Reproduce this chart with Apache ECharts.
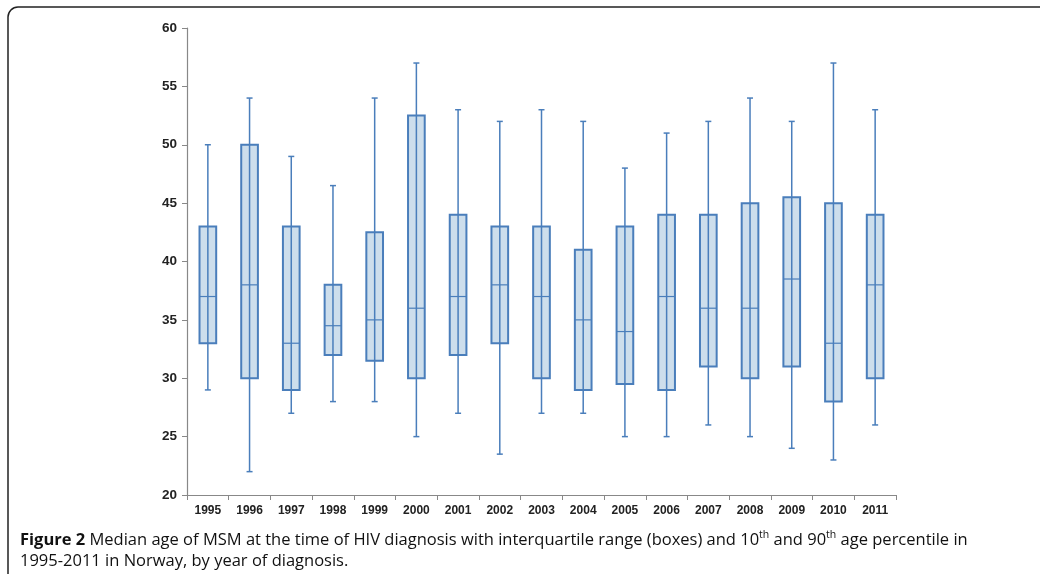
<!DOCTYPE html>
<html>
<head>
<meta charset="utf-8">
<script src="https://cdn.jsdelivr.net/npm/echarts@6/dist/echarts.min.js"></script>
<style>
  html, body { margin: 0; padding: 0; background: #fff; }
  #chart { width: 1040px; height: 574px; }
</style>
</head>
<body>
<div id="chart"></div>
<script>
// years of diagnosis
var years = ['1995','1996','1997','1998','1999','2000','2001','2002','2003','2004','2005','2006','2007','2008','2009','2010','2011'];
// 10th percentile, 25th, median, 75th, 90th
var p10 = [29, 22, 27, 28, 28, 25, 27, 23.5, 27, 27, 25, 25, 26, 25, 24, 23, 26];
var q1  = [33, 30, 29, 32, 31.5, 30, 32, 33, 30, 29, 29.5, 29, 31, 30, 31, 28, 30];
var med = [37, 38, 33, 34.5, 35, 36, 37, 38, 37, 35, 34, 37, 36, 36, 38.5, 33, 38];
var q3  = [43, 50, 43, 38, 42.5, 52.5, 44, 43, 43, 41, 43, 44, 44, 45, 45.5, 45, 44];
var p90 = [50, 54, 49, 46.5, 54, 57, 53, 52, 53, 52, 48, 51, 52, 54, 52, 57, 53];
var yTicks = [20, 25, 30, 35, 40, 45, 50, 55, 60];

var boxData = years.map(function (y, i) {
    return [i, p10[i], q1[i], med[i], q3[i], p90[i]];
});

var lineCol = '#4a7ebb';
var fillCol = '#cddeec';

function renderBox(params, api) {
    var i = api.value(0);
    var lo = api.coord([i, api.value(1)]);
    var b1 = api.coord([i, api.value(2)]);
    var m = api.coord([i, api.value(3)]);
    var b3 = api.coord([i, api.value(4)]);
    var hi = api.coord([i, api.value(5)]);
    var w = api.size([1, 0])[0] * 0.4;
    var cap = 3;
    var x = lo[0];
    return {
        type: 'group',
        children: [
            { type: 'rect', shape: { x: x - w / 2, y: b3[1], width: w, height: b1[1] - b3[1] },
              style: { fill: fillCol, stroke: lineCol, lineWidth: 2 } },
            { type: 'line', shape: { x1: x, y1: hi[1], x2: x, y2: lo[1] },
              style: { stroke: lineCol, lineWidth: 1.5 } },
            { type: 'line', shape: { x1: x - w / 2, y1: m[1], x2: x + w / 2, y2: m[1] },
              style: { stroke: lineCol, lineWidth: 1.2 } },
            { type: 'line', shape: { x1: x - cap, y1: hi[1], x2: x + cap, y2: hi[1] },
              style: { stroke: lineCol, lineWidth: 1.5 } },
            { type: 'line', shape: { x1: x - cap, y1: lo[1], x2: x + cap, y2: lo[1] },
              style: { stroke: lineCol, lineWidth: 1.5 } }
        ]
    };
}

var myChart = echarts.init(document.getElementById('chart'));
var option = {
    animation: false,
    grid: { left: 187, right: 144, top: 28, bottom: 79 },
    xAxis: {
        type: 'category',
        data: years,
        axisLine: { lineStyle: { color: '#888', width: 1.2 } },
        axisTick: { show: true, length: 5, lineStyle: { color: '#888' } },
        axisLabel: { color: '#222', fontWeight: 'bold', fontSize: 12, fontFamily: 'Liberation Sans', margin: 10 }
    },
    yAxis: {
        type: 'value',
        min: yTicks[0],
        max: yTicks[yTicks.length - 1],
        interval: 5,
        splitLine: { show: false },
        axisLine: { show: true, lineStyle: { color: '#888', width: 1.2 } },
        axisTick: { show: true, length: 5, lineStyle: { color: '#888' } },
        axisLabel: { color: '#222', fontWeight: 'bold', fontSize: 13.5, fontFamily: 'Liberation Sans', margin: 10 }
    },
    series: [{
        type: 'custom',
        renderItem: renderBox,
        data: boxData,
        encode: { x: 0, y: [1, 2, 3, 4, 5] }
    }],
    graphic: [
        { type: 'rect', shape: { x: 8, y: 7, width: 1100, height: 620, r: 10 },
          style: { fill: 'none', stroke: '#222', lineWidth: 1.5 } },
        { type: 'text', left: 20, top: 530,
          style: {
              text: '{b|Figure 2} Median age of MSM at the time of HIV diagnosis with interquartile range (boxes) and 10{s|th} and 90{s|th} age percentile in',
              fontFamily: 'Open Sans', fontSize: 16.5, fill: '#111',
              rich: {
                  b: { fontWeight: 'bold', fontFamily: 'Open Sans', fontSize: 16.5, fill: '#111' },
                  s: { fontSize: 10.5, fontFamily: 'Open Sans', verticalAlign: 'top', fill: '#111', padding: [0, 0, 9, 0] }
              }
          } },
        { type: 'text', left: 20, top: 553,
          style: { text: '1995-2011 in Norway, by year of diagnosis.', fontFamily: 'Open Sans', fontSize: 16.5, fill: '#111' } }
    ]
};
myChart.setOption(option);
</script>
</body>
</html>
